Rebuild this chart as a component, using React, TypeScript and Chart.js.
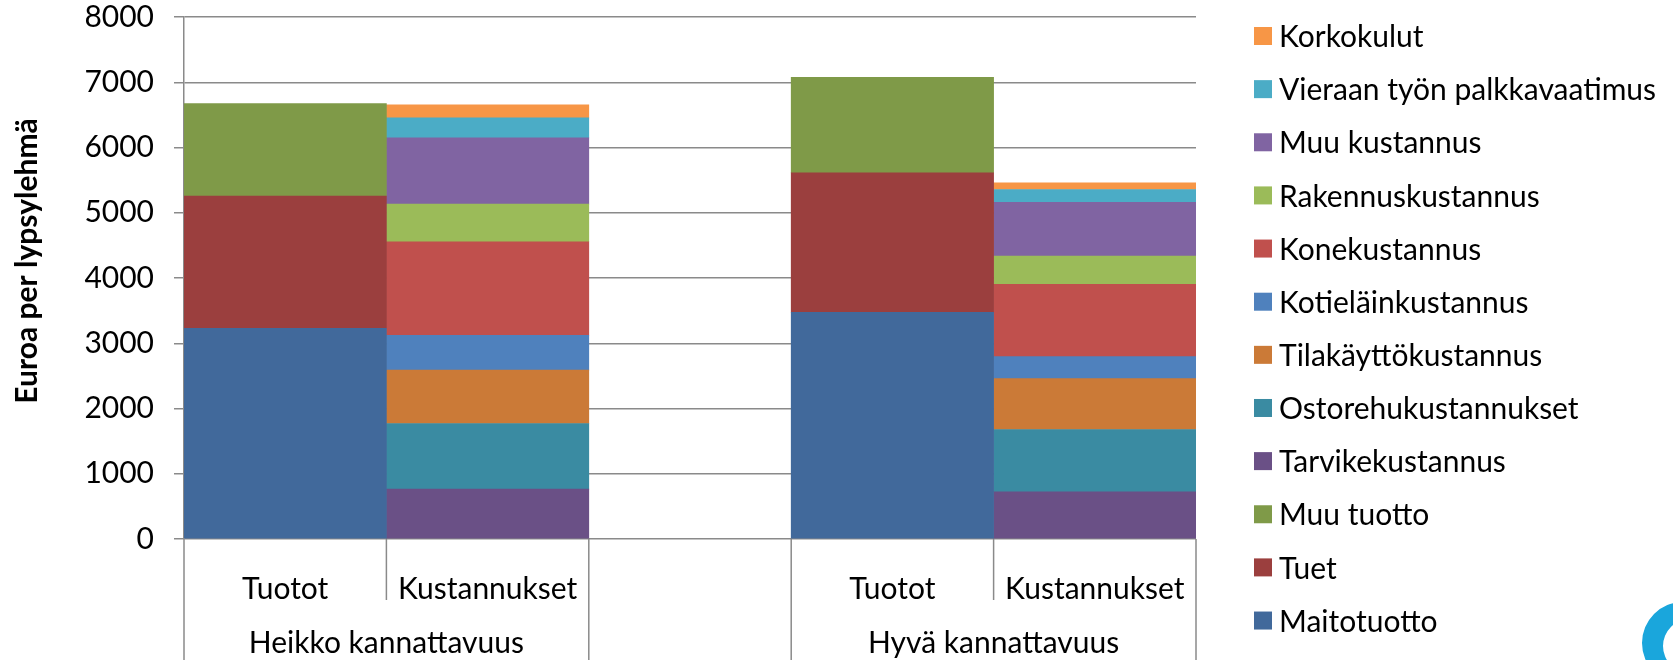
import React, { useEffect, useRef } from 'react';
import { Chart, registerables } from 'chart.js';

Chart.register(...registerables);

const FONT = 'Lato';
const GRID = '#8a8a8a';
const FS = 30;

const categories = ['Tuotot', 'Kustannukset', '', 'Tuotot', 'Kustannukset'];
const groupLabels = ['Heikko kannattavuus', 'Hyvä kannattavuus'];
const groupStart = [0, 3];
const groupEnd = [1, 4];

const yMin = 0;
const yMax = 8000;
const yStep = 1000;
const yTitle = 'Euroa per lypsylehmä';

const seriesNames = [
  'Maitotuotto',
  'Tuet',
  'Muu tuotto',
  'Tarvikekustannus',
  'Ostorehukustannukset',
  'Tilakäyttökustannus',
  'Kotieläinkustannus',
  'Konekustannus',
  'Rakennuskustannus',
  'Muu kustannus',
  'Vieraan työn palkkavaatimus',
  'Korkokulut',
];

const maitotuotto = [3230, null, null, 3475, null];
const tuet = [2025, null, null, 2137, null];
const muuTuotto = [1419, null, null, 1464, null];
const tarvike = [null, 765, null, null, 724];
const ostorehu = [null, 1005, null, null, 954];
const tilakaytto = [null, 817, null, null, 781];
const kotielain = [null, 536, null, null, 336];
const kone = [null, 1432, null, null, 1108];
const rakennus = [null, 577, null, null, 434];
const muuKustannus = [null, 1015, null, null, 821];
const vieraanTyo = [null, 306, null, null, 199];
const korkokulut = [null, 200, null, null, 101];

const seriesValues = [
  maitotuotto, tuet, muuTuotto, tarvike, ostorehu, tilakaytto,
  kotielain, kone, rakennus, muuKustannus, vieraanTyo, korkokulut,
];

const seriesColors = [
  '#41699B', '#9B3F3E', '#7F9A48', '#6A5086', '#3A8BA2', '#CB7A37',
  '#4F81BD', '#C0504D', '#9BBB59', '#8064A2', '#4BACC6', '#F79646',
];

const decorPlugin = {
  id: 'decor',
  afterDraw(chart: any) {
    const ctx = chart.ctx as CanvasRenderingContext2D;
    const xs = chart.scales.x;
    const area = chart.chartArea;
    const n = categories.length;
    const step = xs.getPixelForValue(1) - xs.getPixelForValue(0);
    ctx.save();
    // category dividers under the axis
    ctx.strokeStyle = GRID;
    ctx.lineWidth = 1.5;
    for (let i = 0; i <= n; i++) {
      const px = i < n ? xs.getPixelForValue(i) - step / 2 : xs.getPixelForValue(n - 1) + step / 2;
      const inner = groupStart.some((s, g) => i > s && i <= groupEnd[g]);
      const end = inner ? area.bottom + 61 : chart.height;
      ctx.beginPath();
      ctx.moveTo(px, area.bottom);
      ctx.lineTo(px, end);
      ctx.stroke();
    }
    // group labels
    ctx.fillStyle = '#000';
    ctx.font = `${FS}px ${FONT}`;
    ctx.textAlign = 'center';
    ctx.textBaseline = 'alphabetic';
    groupLabels.forEach((lab, g) => {
      const cx = (xs.getPixelForValue(groupStart[g]) + xs.getPixelForValue(groupEnd[g])) / 2;
      ctx.fillText(lab, cx, area.bottom + 114);
    });
    // y title
    ctx.save();
    ctx.translate(27, 261);
    ctx.rotate(-Math.PI / 2);
    ctx.font = `bold ${FS}px ${FONT}`;
    ctx.textAlign = 'center';
    ctx.textBaseline = 'middle';
    ctx.fillText(yTitle, 0, 0);
    ctx.restore();
    // legend (reverse order)
    const items = chart.data.datasets.map((d: any, i: number) => ({ label: d.label, color: d.backgroundColor, i })).reverse();
    ctx.font = `${FS}px ${FONT}`;
    ctx.textAlign = 'left';
    ctx.textBaseline = 'middle';
    items.forEach((it: any, k: number) => {
      const cy = 36 + k * 53.14;
      ctx.fillStyle = it.color;
      ctx.fillRect(1254, cy - 9, 18, 18);
      ctx.fillStyle = '#000';
      ctx.fillText(it.label, 1279, cy + 1.5);
    });
    // logo fragment
    ctx.beginPath();
    ctx.arc(1683, 643, 41, 0, Math.PI * 2);
    ctx.arc(1690, 646, 27, 0, Math.PI * 2, true);
    ctx.fillStyle = '#1AA6DC';
    ctx.fill('evenodd');
    ctx.restore();
  },
};

export default function App() {
  const ref = useRef<HTMLCanvasElement>(null);
  useEffect(() => {
    if (!ref.current) return;
    const chart = new Chart(ref.current, {
      type: 'bar',
      data: {
        labels: categories,
        datasets: seriesNames.map((name, i) => ({
          label: name,
          data: seriesValues[i],
          backgroundColor: seriesColors[i],
          borderWidth: 0,
          categoryPercentage: 1,
          barPercentage: 1,
        })),
      },
      options: {
        responsive: false,
        animation: false,
        layout: { padding: { top: 17, right: 477, bottom: 0, left: 0 } },
        plugins: {
          legend: { display: false },
          tooltip: { enabled: false },
        },
        scales: {
          x: {
            stacked: true,
            grid: { display: false },
            border: { display: false },
            ticks: { color: '#000', padding: 24, font: { family: FONT, size: FS } },
            afterFit: (s: any) => { s.height = 121; s.paddingLeft = 0; s.paddingRight = 0; },
          },
          y: {
            stacked: true,
            min: yMin,
            max: yMax,
            ticks: {
              stepSize: yStep,
              color: '#000',
              padding: 20,
              font: { family: FONT, size: FS },
              callback: (v: any) => String(v),
            },
            grid: { color: GRID, lineWidth: 1.5, tickLength: 10, drawTicks: true },
            border: { display: true, color: GRID, width: 1.5 },
            afterFit: (s: any) => { s.width = 184; s.paddingTop = 0; s.paddingBottom = 0; },
          },
        },
      },
      plugins: [decorPlugin],
    });
    return () => chart.destroy();
  }, []);
  return (
    <div style={{ position: 'fixed', left: 0, top: 0, width: 1673, height: 660, background: '#fff' }}>
      <canvas ref={ref} width={1673} height={660} style={{ display: 'block' }} />
    </div>
  );
}
